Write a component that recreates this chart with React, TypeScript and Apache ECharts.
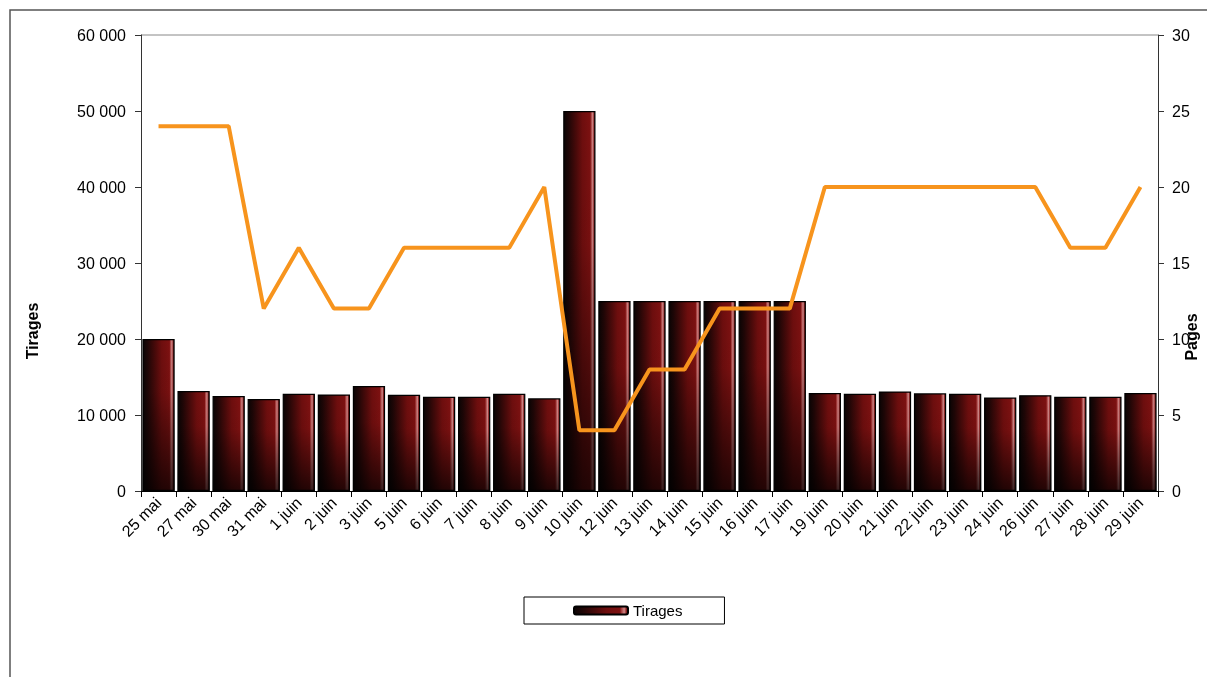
import React, { useEffect, useRef } from "react";
import * as echarts from "echarts";

const categories = [
  "25 mai", "27 mai", "30 mai", "31 mai", "1 juin", "2 juin", "3 juin", "5 juin", "6 juin", "7 juin",
  "8 juin", "9 juin", "10 juin", "12 juin", "13 juin", "14 juin", "15 juin", "16 juin", "17 juin",
  "19 juin", "20 juin", "21 juin", "22 juin", "23 juin", "24 juin", "26 juin", "27 juin", "28 juin", "29 juin",
];
const tirages = [
  20000, 13150, 12500, 12100, 12800, 12700, 13800, 12650, 12400, 12400,
  12800, 12200, 50000, 25000, 25000, 25000, 25000, 25000, 25000,
  12900, 12800, 13100, 12850, 12800, 12300, 12600, 12400, 12400, 12900,
];
const pages = [
  24, 24, 24, 12, 16, 12, 12, 16, 16, 16,
  16, 20, 4, 4, 8, 8, 12, 12, 12,
  20, 20, 20, 20, 20, 20, 20, 16, 16, 20,
];
const leftTitle = "Tirages";
const rightTitle = "Pages";

const FONT = "'Liberation Sans', Arial, sans-serif";

const fmt = (v: number) => {
  const s = String(Math.round(v));
  return s.replace(/\B(?=(\d{3})+(?!\d))/g, " ");
};

export default function App() {
  const ref = useRef<HTMLDivElement>(null);
  useEffect(() => {
    document.body.style.margin = "0";
    document.body.style.overflow = "hidden";
    document.documentElement.style.overflow = "hidden";
    const chart = echarts.init(ref.current!, null, { renderer: "svg" });
    const barGrad = new echarts.graphic.LinearGradient(0, 0, 1, 0, [
      { offset: 0, color: "#0a0404" },
      { offset: 0.15, color: "#1e0606" },
      { offset: 0.4, color: "#4a0a0a" },
      { offset: 0.6, color: "#6e0e0e" },
      { offset: 0.85, color: "#7d1111" },
      { offset: 0.88, color: "#a84040" },
      { offset: 0.93, color: "#d08888" },
      { offset: 0.97, color: "#8a2020" },
      { offset: 1, color: "#3a0808" },
    ]);
    const shade = new echarts.graphic.LinearGradient(0, 0, 0, 1, [
      { offset: 0, color: "rgba(0,0,0,0)" },
      { offset: 0.35, color: "rgba(0,0,0,0.05)" },
      { offset: 1, color: "rgba(0,0,0,0.72)" },
    ]);
    const titleStyle = { fill: "#000", font: `bold 16px ${FONT}`, align: "center", verticalAlign: "middle" };
    chart.setOption({
      animation: false,
      textStyle: { fontFamily: FONT },
      grid: { left: 141, right: 49, top: 35, bottom: 186, outerBoundsMode: "none", containLabel: false },
      legend: {
        data: ["Tirages"],
        left: 524,
        top: 597,
        padding: [6, 42, 6, 49],
        borderColor: "#000",
        borderWidth: 1,
        itemWidth: 54,
        itemHeight: 8,
        itemGap: 5,
        textStyle: { fontSize: 15, color: "#000", fontFamily: FONT },
      },
      graphic: [
        {
          type: "rect",
          shape: { x: 10, y: 10, width: 1220, height: 700 },
          style: { fill: "none", stroke: "#555", lineWidth: 1.5 },
          silent: true,
        },
        {
          type: "line",
          shape: { x1: 141, y1: 35, x2: 1158, y2: 35 },
          style: { stroke: "#888", lineWidth: 1 },
          silent: true,
        },
        {
          type: "text",
          x: 32,
          y: 331,
          rotation: Math.PI / 2,
          style: { ...titleStyle, text: leftTitle },
          silent: true,
        },
        {
          type: "text",
          x: 1191,
          y: 337,
          rotation: Math.PI / 2,
          style: { ...titleStyle, text: rightTitle },
          silent: true,
        },
      ],
      xAxis: {
        type: "category",
        data: categories,
        boundaryGap: true,
        axisLine: { lineStyle: { color: "#000", width: 1 } },
        axisTick: { show: true, length: 6, lineStyle: { color: "#000" } },
        axisLabel: { rotate: 45, fontSize: 16, color: "#000", margin: 9, interval: 0, fontFamily: FONT },
      },
      yAxis: [
        {
          type: "value",
          min: 0,
          max: 60000,
          interval: 10000,
          axisLine: { show: true, lineStyle: { color: "#333" } },
          axisTick: { show: true, length: 6, lineStyle: { color: "#333" } },
          splitLine: { show: false },
          axisLabel: { fontSize: 16, color: "#000", margin: 15, fontFamily: FONT, formatter: fmt },
        },
        {
          type: "value",
          min: 0,
          max: 30,
          interval: 5,
          axisLine: { show: true, lineStyle: { color: "#333" } },
          axisTick: { show: true, length: 6, lineStyle: { color: "#333" } },
          splitLine: { show: false },
          axisLabel: { fontSize: 16, color: "#000", margin: 14, fontFamily: FONT },
        },
      ],
      series: [
        {
          name: "Tirages",
          type: "bar",
          data: tirages,
          barCategoryGap: "8%",
          itemStyle: { color: barGrad, borderColor: "#000", borderWidth: 1.2 },
        },
        {
          name: "shade",
          type: "bar",
          data: tirages,
          barGap: "-100%",
          barCategoryGap: "8%",
          silent: true,
          itemStyle: { color: shade },
        },
        {
          name: "Pages",
          type: "line",
          yAxisIndex: 1,
          data: pages,
          symbol: "none",
          lineStyle: { color: "#F7941D", width: 4 },
          itemStyle: { color: "#F7941D" },
        },
      ],
    });
    return () => chart.dispose();
  }, []);
  return <div ref={ref} style={{ position: "fixed", left: 0, top: 0, width: 1207, height: 677 }} />;
}
